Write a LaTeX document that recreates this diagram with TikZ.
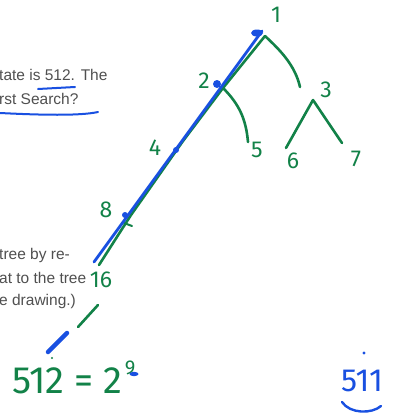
\documentclass[tikz,border=0pt]{standalone}
\usepackage{fontspec}
\setmainfont{Liberation Sans}
\newfontfamily\hand{Fira Sans}
\definecolor{pen}{RGB}{18,130,72}
\definecolor{ink}{RGB}{25,80,225}
\definecolor{slide}{RGB}{80,80,80}
\begin{document}
\begin{tikzpicture}[x=1pt,y=-1pt,
  slidetext/.style={anchor=west,text=slide,font=\fontsize{15.5}{17}\selectfont,inner sep=0pt},
  num/.style={text=pen,font=\hand\fontsize{23}{25}\selectfont,inner sep=0pt},
  gline/.style={pen,line width=2.6pt,line cap=round},
  bline/.style={ink,line width=2.8pt,line cap=round}]
\useasboundingbox (0,0) rectangle (393,415);
\fill[white] (0,0) rectangle (393,415);
% slide text
\node[slidetext] (t1) at (-1,75) {tate is 512. The};
\node[slidetext] (t2) at (-1,99) {rst Search?};
\node[slidetext] (t3) at (-1,255) {tree by re-};
\node[slidetext] (t4) at (-1,278) {at to the tree};
\node[slidetext] (t5) at (-1,301) {e drawing.)};
% underlines
\coordinate (u1a) at (38,89); \coordinate (u1b) at (75,87);
\draw[ink,line width=2pt,line cap=round] (u1a) -- (u1b);
\coordinate (u2a) at (0,113); \coordinate (u2b) at (98,112);
\draw[ink,line width=2pt,line cap=round] (u2a) .. controls (40,115) and (80,116) .. (u2b);
% tree labels
\node[num] (n1) at (276,15) {1};
\node[num] (n2) at (204,81) {2};
\node[num] (n3) at (326,90) {3};
\node[num] (n4) at (155,148) {4};
\node[num] (n5) at (257,150) {5};
\node[num] (n6) at (293,161) {6};
\node[num] (n7) at (356,159) {7};
\node[num] (n8) at (106,210) {8};
\node[num] (n16) at (101,280) {16};
% edge anchors
\coordinate (a1) at (265,36);
\coordinate (a2) at (223,88);
\coordinate (a3) at (313,100);
\coordinate (b3) at (300,87);
\coordinate (b5) at (248,142);
\coordinate (b6) at (286,148);
\coordinate (b7) at (342,143);
\coordinate (a4) at (183,141);
\coordinate (a8) at (131,215);
\coordinate (b16) at (99,265);
% green edges
\draw[gline] (a1) -- (a2);
\draw[gline] (a1) .. controls (280,50) and (295,65) .. (b3);
\draw[gline] (a2) .. controls (240,105) and (246,120) .. (b5);
\draw[gline] (a3) -- (b6);
\draw[gline] (a3) -- (b7);
\draw[gline] (a2) -- (a4) -- (a8) -- (b16);
\draw[pen,line width=2pt,line cap=round] (124,223) -- (132,226);
% blue path
\coordinate (c1) at (262,31);
\coordinate (c16) at (94,262);
\draw[bline] (c1) -- (c16);
\fill[ink] (257,33) ellipse (6pt and 3.5pt);
\fill[ink] (217,84) ellipse (4pt and 4pt);
\fill[ink] (176,150) ellipse (3pt and 3pt);
\fill[ink] (125,215) ellipse (3pt and 3pt);
% bottom strokes
\coordinate (g1) at (78,327); \coordinate (g2) at (98,305);
\draw[gline] (g1) -- (g2);
\coordinate (d1) at (48,352); \coordinate (d2) at (67,333);
\draw[ink,line width=4.5pt,line cap=round] (d1) -- (d2);
\fill[pen] (52,358) circle (1.2pt);
% 512 = 2^9
\node[text=pen,font=\hand\fontsize{38}{40}\selectfont,inner sep=0pt,anchor=west] (eq) at (12,381) {512 = 2};
\node[text=pen,font=\hand\fontsize{20}{22}\selectfont,inner sep=0pt] (exp) at (130,368) {9};
\fill[ink] (134,374) ellipse (4.5pt and 2.2pt);
% 511
\node[text=ink,font=\hand\fontsize{32}{34}\selectfont,inner sep=0pt] (v511) at (362,381) {511};
\fill[ink] (364,353) circle (1.6pt);
\coordinate (s1) at (342,402); \coordinate (s2) at (381,406);
\draw[ink,line width=2.4pt,line cap=round] (s1) .. controls (350,414) and (372,414) .. (s2);
\end{tikzpicture}
\end{document}
